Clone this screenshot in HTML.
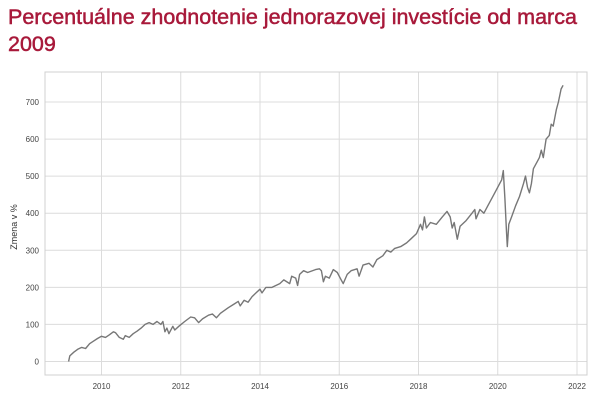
<!DOCTYPE html>
<html><head><meta charset="utf-8"><style>
body{margin:0;width:603px;height:405px;background:#fff;overflow:hidden;font-family:"Liberation Sans",sans-serif}
#title{position:absolute;left:8px;top:4px;width:595px;font-size:21.5px;line-height:27px;color:#a8193a;margin:0;font-weight:normal;-webkit-text-stroke:0.5px #a8193a}
svg{position:absolute;left:0;top:0}
</style></head><body>
<h1 id="title">Percentuálne zhodnotenie jednorazovej investície od marca 2009</h1>
<svg id="chart" width="603" height="405"></svg>
<script>
const xTickLabels=["2010","2012","2014","2016","2018","2020","2022"];
const yTickLabels=["0","100","200","300","400","500","600","700"];
const dates=[2009.17,2009.2,2009.3,2009.4,2009.5,2009.6,2009.7,2009.8,2009.9,2010.0,2010.1,2010.2,2010.3,2010.35,2010.45,2010.55,2010.6,2010.7,2010.8,2010.9,2011.0,2011.1,2011.2,2011.3,2011.4,2011.5,2011.55,2011.6,2011.65,2011.7,2011.8,2011.85,2011.95,2012.1,2012.25,2012.35,2012.45,2012.55,2012.7,2012.8,2012.9,2013.0,2013.2,2013.35,2013.45,2013.5,2013.6,2013.7,2013.8,2013.9,2014.0,2014.05,2014.15,2014.3,2014.5,2014.6,2014.75,2014.8,2014.9,2014.95,2015.0,2015.1,2015.2,2015.4,2015.5,2015.55,2015.6,2015.65,2015.75,2015.85,2015.95,2016.05,2016.1,2016.2,2016.3,2016.45,2016.5,2016.6,2016.75,2016.85,2016.95,2017.1,2017.2,2017.3,2017.4,2017.55,2017.7,2017.8,2017.95,2018.05,2018.1,2018.15,2018.2,2018.3,2018.45,2018.6,2018.72,2018.8,2018.85,2018.9,2018.98,2019.05,2019.2,2019.35,2019.42,2019.45,2019.55,2019.65,2019.75,2019.9,2020.05,2020.1,2020.14,2020.18,2020.22,2020.24,2020.28,2020.35,2020.45,2020.55,2020.65,2020.7,2020.75,2020.8,2020.85,2020.9,2021.0,2021.05,2021.1,2021.15,2021.22,2021.3,2021.35,2021.4,2021.48,2021.53,2021.6,2021.65];
const values=[0,15,25,33,38,35,48,55,62,68,65,72,80,78,65,60,70,65,75,82,90,100,105,100,108,100,108,80,90,75,95,85,95,108,120,118,105,115,125,128,118,130,145,155,162,150,165,160,175,185,195,185,200,200,210,220,210,230,225,205,235,245,240,248,250,245,215,230,225,248,240,220,210,235,245,250,230,260,265,255,275,285,300,295,305,310,320,330,345,370,355,390,360,375,370,390,405,390,360,375,330,365,380,400,410,385,410,400,420,450,480,490,515,440,350,310,370,390,420,445,480,500,470,455,480,520,540,550,570,550,600,610,640,635,680,700,735,745];
const svg=document.getElementById('chart');const NS='http://www.w3.org/2000/svg';
const L=45,R=587,T=72,B=375;
const xS=y=>101.5+(y-2010)*(577-101.5)/12;
const yS=v=>361.5-v*(361.5-102)/700;
function mk(t,a){const e=document.createElementNS(NS,t);for(const k in a)e.setAttribute(k,a[k]);svg.appendChild(e);return e;}
xTickLabels.forEach(t=>{const x=xS(+t);
const g=mk('line',{x1:x,x2:x,y1:T,y2:B,stroke:'#dcdcdc','stroke-width':1});


const l=mk('text',{x:x,y:389,'font-size':8,fill:'#444','text-anchor':'middle'});l.textContent=t;

});
yTickLabels.forEach(t=>{const y=yS(+t);
const g=mk('line',{x1:L,x2:R,y1:y,y2:y,stroke:'#dcdcdc','stroke-width':1});


const l=mk('text',{x:39,y:y+3,'font-size':8,fill:'#444','text-anchor':'end'});l.textContent=t;

});
const fr=mk('rect',{x:L,y:T,width:R-L,height:B-T,fill:'none',stroke:'#d0d0d0','stroke-width':1});


const yt=mk('text',{x:0,y:0,'font-size':9,fill:'#333','text-anchor':'middle',transform:'translate(17,227) rotate(-90)'});yt.textContent='Zmena v %';


const p=mk('polyline',{points:dates.map((d,i)=>xS(d).toFixed(1)+','+yS(values[i]).toFixed(1)).join(' '),fill:'none',stroke:'#777','stroke-width':1.4,'stroke-linejoin':'round'});


</script>
</body></html>
